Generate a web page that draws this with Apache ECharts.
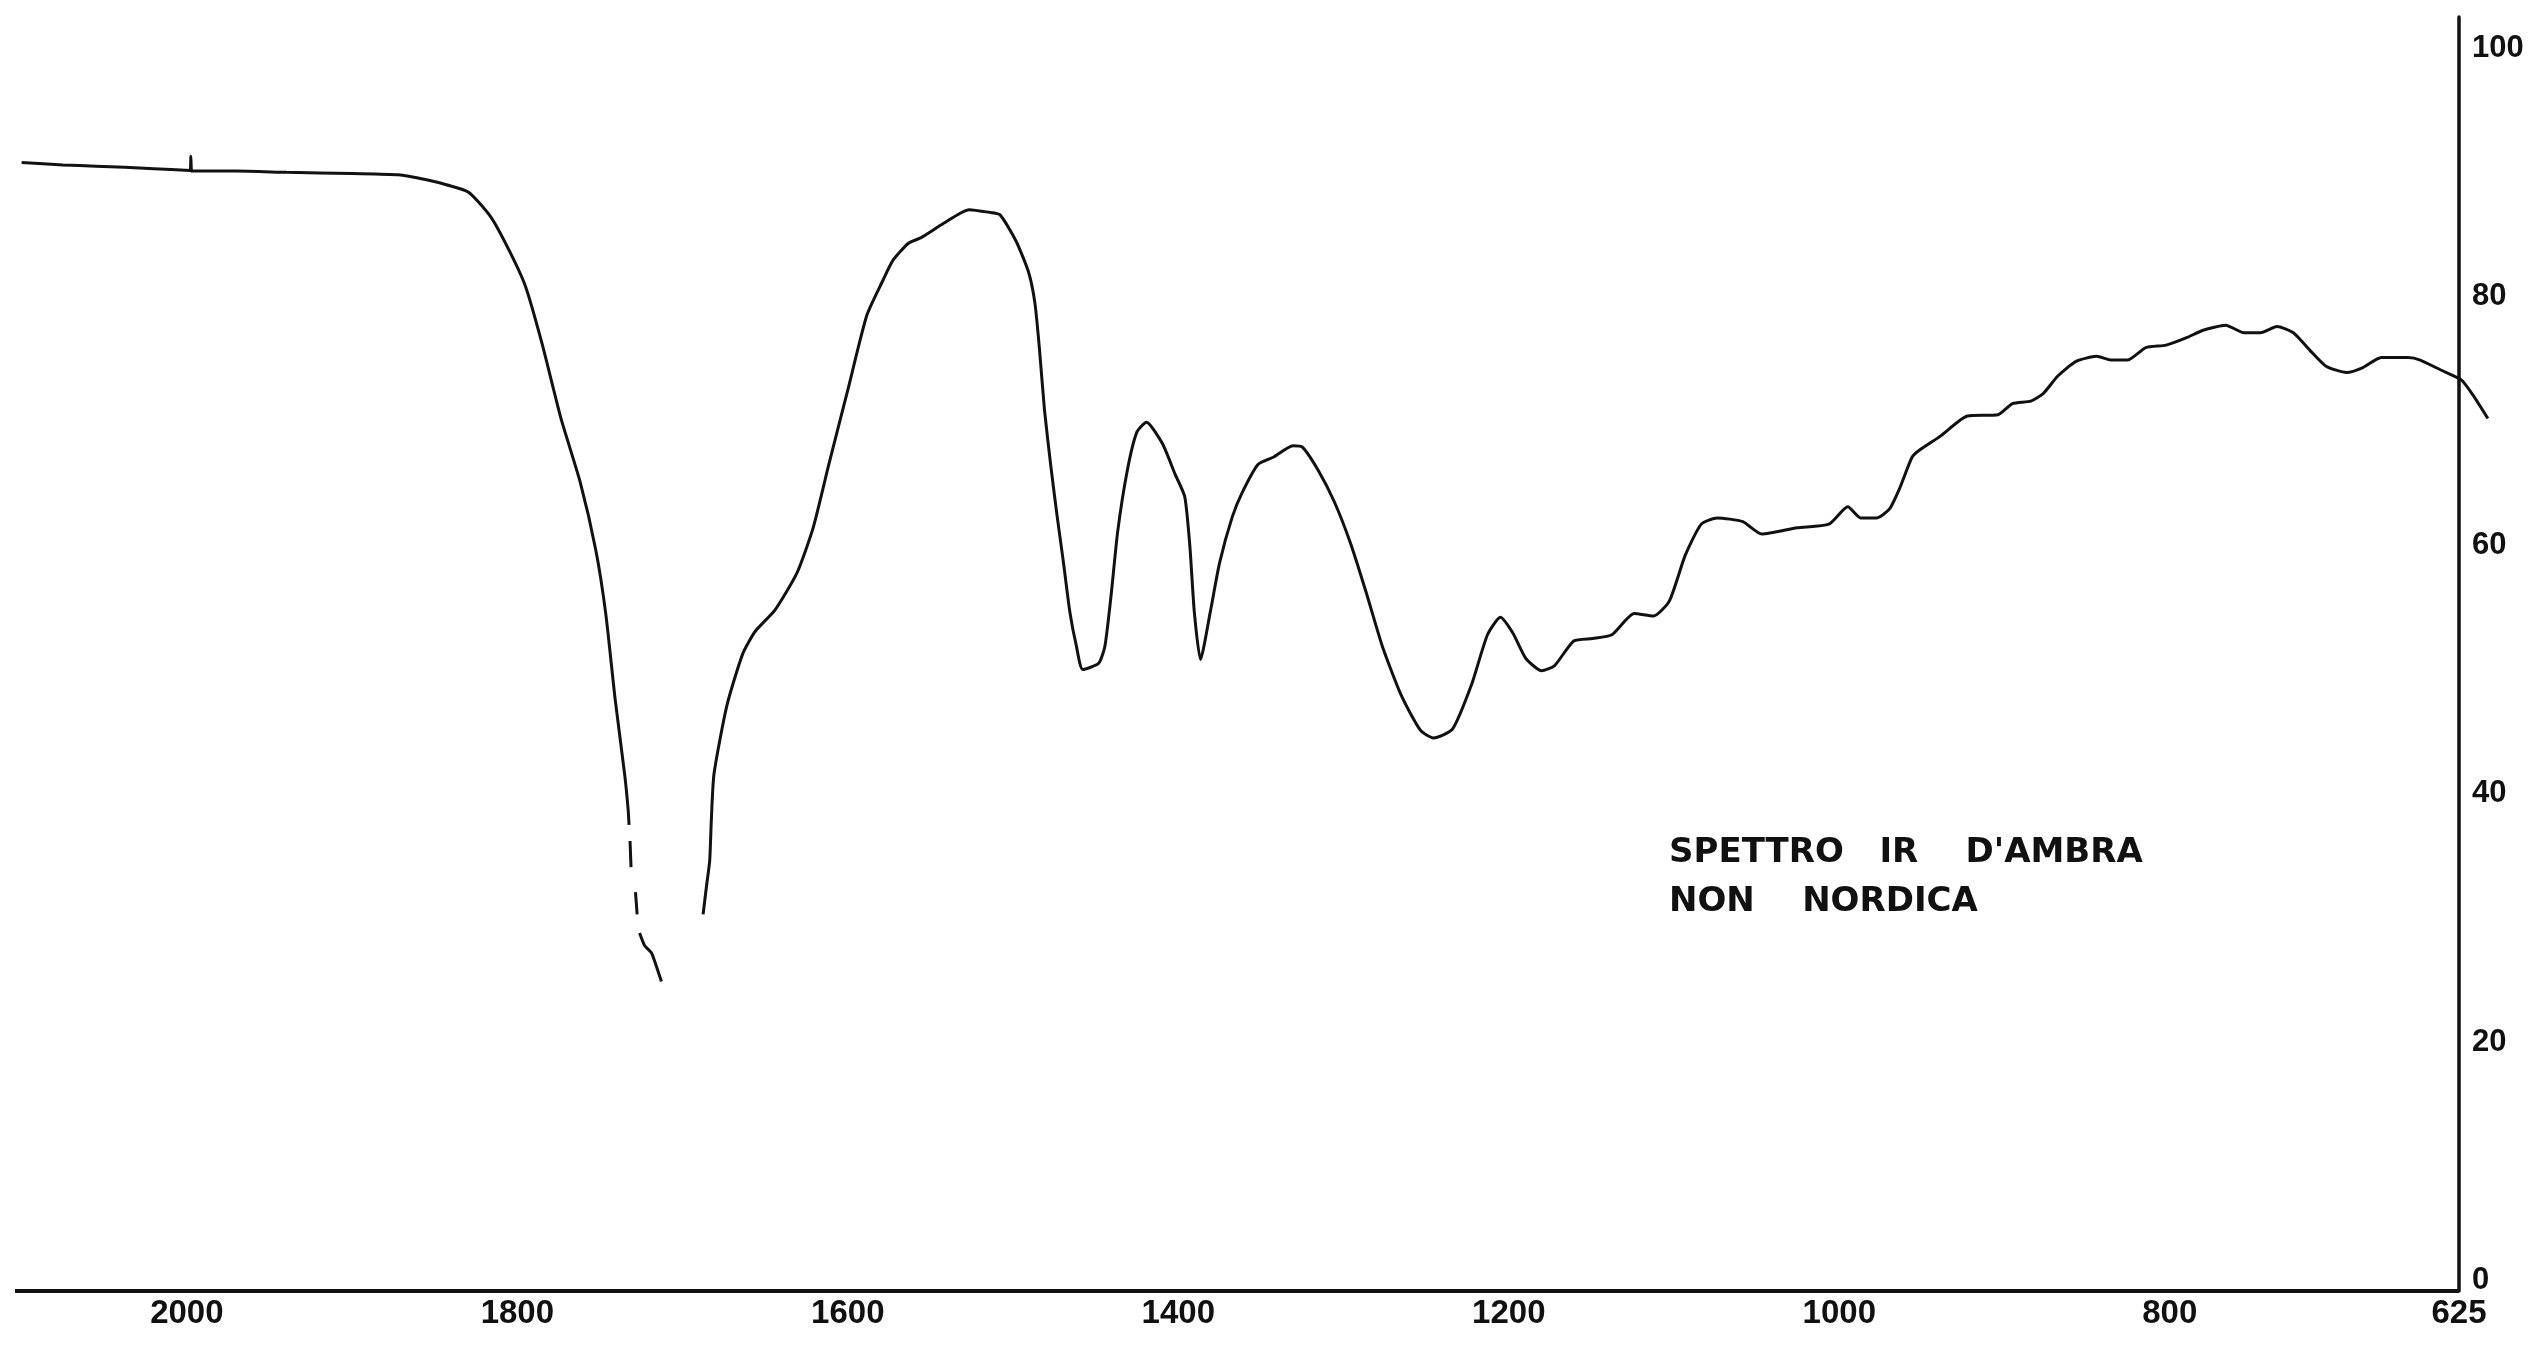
<!DOCTYPE html>
<html>
<head>
<meta charset="utf-8">
<script src="https://cdn.jsdelivr.net/npm/echarts/dist/echarts.min.js"></script>
<style>
  html, body { margin: 0; padding: 0; background: #ffffff; }
  #chart { width: 2543px; height: 1353px; }
</style>
</head>
<body>
<div id="chart"></div>
<script>
// Wavenumber (cm-1) and transmittance (%); null = pen gap
const wavenumber = [
  2100, 2075, 2055, 2020, 1998, 1997.6, 1997.2, 1996.8, 1970, 1939.5, 1900, 1872, 1855, 1843, 1829.5,
  1816, 1804.5, 1795, 1785, 1773.6, 1762, 1752.5, 1746.5, 1740.8, 1735, 1733, 1732.4,
  1732.1, 1731.8, 1731.2, 1730, 1728.5, 1727.5, 1726.8, 1726, 1723, 1718.8, 1715.8, 1712.8,
  1700, 1687.6, 1685.5, 1683.6, 1682.6, 1681, 1673.2, 1663.5, 1655.9, 1644, 1630.7, 1621,
  1611.5, 1600, 1588.5, 1578.8, 1572.8, 1563.3, 1555.6, 1542, 1526.6, 1515, 1508, 1498.3,
  1490.7, 1486.8, 1484.1, 1481, 1477.1, 1473.3, 1469.5, 1465.6, 1461.7, 1457.8, 1448.2, 1444.4,
  1440.5, 1436.7, 1430.9, 1425.1, 1419.3, 1409.7, 1401.9, 1396.1, 1393, 1390.3, 1386.6, 1380.7,
  1375, 1367.3, 1361.5, 1351.8, 1342.2, 1330.6, 1324.9, 1315.2, 1305.6, 1295.9, 1286.3, 1276.6,
  1265, 1253.4, 1245.7, 1234.1, 1222.5, 1212.9, 1205.1, 1197.4, 1189.7, 1180.1, 1172.4, 1160.7,
  1149.2, 1137.6, 1124.1, 1112.5, 1102.9, 1093.2, 1083.5, 1073.9, 1058.4, 1046.9, 1025.6, 1006.3,
  994.8, 987.1, 977.5, 969.7, 963.4, 955.9, 951, 938.6, 922.5, 903.9, 895.2, 884.1, 876.6, 867.9,
  856.7, 844.3, 835.6, 825.7, 814.5, 802.2, 789.8, 779.8, 766.2, 755, 745.1, 735.1, 725.2, 715.3,
  705.4, 693, 683.1, 672, 655.8, 648.4, 636, 623.6, 616.1, 607.5
];
const transmittance = [
  90.8, 90.6, 90.5, 90.3, 90.15, 91.3, 90.1, 90.1, 90.1, 90.0, 89.9, 89.8, 89.4, 89.0, 88.4,
  86.4, 83.6, 80.8, 76.2, 70.2, 65.1, 59.6, 54.5, 47.6, 41.5, 38.8, 37.5,
  null, 36.2, 34.1, null, 32.1, 30.3, null, 28.8, 27.8, 27.2, 26.1, 24.9,
  null, 30.3, 32.6, 34.6, 37.9, 41.6, 47.1, 51.3, 53.1, 54.8, 57.8, 61.4,
  66.5, 72.5, 78.5, 81.3, 82.9, 84.3, 84.75, 85.9, 87.0, 86.8, 86.6, 84.5,
  82.0, 79.5, 75.9, 70.9, 66.3, 62.3, 58.6, 54.6, 51.9, 50.0, 50.5, 51.9,
  56.2, 61.1, 66.0, 69.1, 69.9, 68.2, 65.7, 63.9, 59.9, 54.6, 50.8, 54.6,
  58.6, 62.3, 64.2, 66.5, 67.1, 68.0, 67.9, 66.0, 63.5, 60.2, 56.2, 51.9,
  47.9, 45.1, 44.5, 45.2, 48.8, 52.8, 54.2, 52.9, 50.9, 49.9, 50.3, 52.3,
  52.5, 52.8, 54.5, 54.3, 55.5, 59.2, 61.7, 62.2, 61.9, 60.9, 61.4, 61.7,
  63.1, 62.2, 62.2, 62.9, 64.6, 67.1, 67.7, 68.8, 70.4, 70.5, 71.4, 71.6, 72.2, 73.6,
  74.8, 75.2, 74.9, 74.9, 75.9, 76.1, 76.7, 77.3, 77.7, 77.1, 77.1, 77.6, 77.1, 75.7,
  74.4, 73.9, 74.3, 75.1, 75.1, 74.9, 74.1, 73.3, 72.0, 70.2
];
const xTickLabels = [2000, 1800, 1600, 1400, 1200, 1000, 800, 625];
const yTickLabels = [0, 20, 40, 60, 80, 100];
const xAxisRange = [625, 2104];   // drawn baseline extent
const noteLines = ["SPETTRO   IR    D'AMBRA", "NON    NORDICA"];

const seriesData = wavenumber.map((w, i) =>
  [w, transmittance[i] === null ? '-' : transmittance[i]]);

const chart = echarts.init(document.getElementById('chart'), null, { renderer: 'canvas' });
chart.setOption({
  animation: false,
  backgroundColor: '#ffffff',
  grid: { left: 15, right: 51, top: 17, bottom: 62, containLabel: false },
  xAxis: {
    type: 'value',
    inverse: true,
    min: 605,
    max: 2104,
    splitLine: { show: false },
    axisTick: { show: false },
    axisLine: { show: false },
    axisLabel: {
      customValues: xTickLabels,
      formatter: v => String(v),
      margin: 6,
      color: '#111',
      fontFamily: 'Liberation Sans',
      fontWeight: 'bold',
      fontSize: 33
    }
  },
  yAxis: {
    type: 'value',
    position: 'right',
    offset: -33,
    min: 0,
    max: 102.5,
    splitLine: { show: false },
    axisTick: { show: false },
    axisLine: { show: true, lineStyle: { color: '#111', width: 3.5 } },
    axisLabel: {
      customValues: yTickLabels,
      margin: 13,
      color: '#111',
      fontFamily: 'Liberation Sans',
      fontWeight: 'bold',
      fontSize: 31,
      formatter: v => v === 0 ? '{z|0}' : String(v),
      rich: { z: { padding: [0, 0, 22, 0], fontFamily: 'Liberation Sans', fontWeight: 'bold', fontSize: 31, color: '#111' } }
    }
  },
  graphic: [{
    type: 'text',
    left: 1669,
    top: 829,
    style: {
      text: noteLines.join('\n'),
      fill: '#111',
      font: 'bold 34px "DejaVu Sans"',
      lineHeight: 49
    }
  }],
  series: [{
    type: 'line',
    data: seriesData,
    showSymbol: false,
    symbol: 'none',
    clip: false,
    smooth: 0.2,
    connectNulls: false,
    lineStyle: { color: '#111', width: 3 },
    markLine: {
      silent: true,
      symbol: 'none',
      label: { show: false },
      lineStyle: { color: '#111', width: 4, type: 'solid' },
      data: [[{ coord: [xAxisRange[1], 0] }, { coord: [xAxisRange[0], 0] }]]
    }
  }]
});
</script>
</body>
</html>
